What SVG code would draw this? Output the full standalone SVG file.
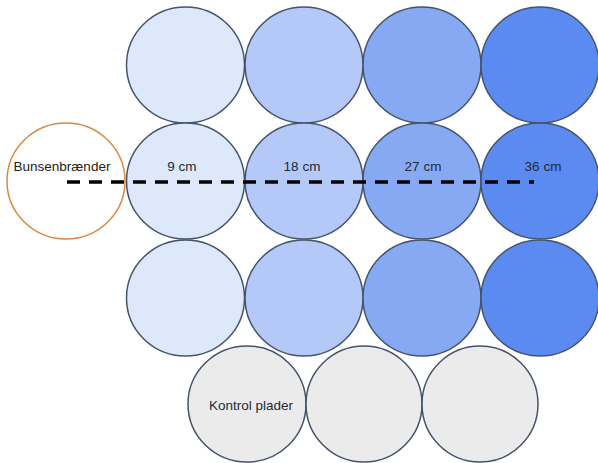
<svg xmlns="http://www.w3.org/2000/svg" width="598" height="463" viewBox="0 0 598 463">
<style>
.c{stroke:#44546A;stroke-width:1.5}
.c1{fill:#DEE8FB}.c2{fill:#B4C9F8}.c3{fill:#87A9F4}.c4{fill:#5B8AF1}
.k{fill:#EBEBEB}
.t{font-family:"Liberation Sans",Arial,sans-serif;font-size:13.5px;text-anchor:middle;fill:#222A35}
</style>
<rect width="598" height="463" fill="#FFFFFF"/>
<g id="plates">
<g id="r1c1"><ellipse class="c c1" cx="185.5" cy="65" rx="59" ry="58"/></g>
<g id="r1c2"><ellipse class="c c2" cx="304" cy="65" rx="59" ry="58"/></g>
<g id="r1c3"><ellipse class="c c3" cx="422" cy="65" rx="59" ry="58"/></g>
<g id="r1c4"><ellipse class="c c4" cx="540" cy="65" rx="59" ry="58"/></g>
<g id="r3c1"><ellipse class="c c1" cx="185.5" cy="298" rx="59" ry="58"/></g>
<g id="r3c2"><ellipse class="c c2" cx="304" cy="298" rx="59" ry="58"/></g>
<g id="r3c3"><ellipse class="c c3" cx="422" cy="298" rx="59" ry="58"/></g>
<g id="r3c4"><ellipse class="c c4" cx="540" cy="298" rx="59" ry="58"/></g>
<g id="r2c1"><ellipse class="c c1" cx="185.5" cy="181" rx="59" ry="58"/><text class="t" x="182" y="171">9 cm</text></g>
<g id="r2c2"><ellipse class="c c2" cx="304" cy="181" rx="59" ry="58"/><text class="t" x="302" y="171">18 cm</text></g>
<g id="r2c3"><ellipse class="c c3" cx="422" cy="181" rx="59" ry="58"/><text class="t" x="423" y="171">27 cm</text></g>
<g id="r2c4"><ellipse class="c c4" cx="540" cy="181" rx="59" ry="58"/><text class="t" x="543" y="171">36 cm</text></g>
<g id="k1"><ellipse class="c k" cx="247" cy="404" rx="59" ry="58"/><text class="t" x="251" y="410">Kontrol plader</text></g>
<g id="k2"><ellipse class="c k" cx="364" cy="404" rx="58" ry="58"/></g>
<g id="k3"><ellipse class="c k" cx="480" cy="404" rx="58" ry="58"/></g>
</g>
<g id="bunsen"><ellipse cx="66" cy="181" rx="59" ry="58" fill="#FFFFFF" stroke="#D9893F" stroke-width="1.5"/><text class="t" x="62" y="171" style="fill:#222">Bunsenbrænder</text></g>
<g id="connectors"><line x1="67" y1="182" x2="534" y2="182" stroke="#000000" stroke-width="3.5" stroke-dasharray="13,9"/></g>
</svg>
